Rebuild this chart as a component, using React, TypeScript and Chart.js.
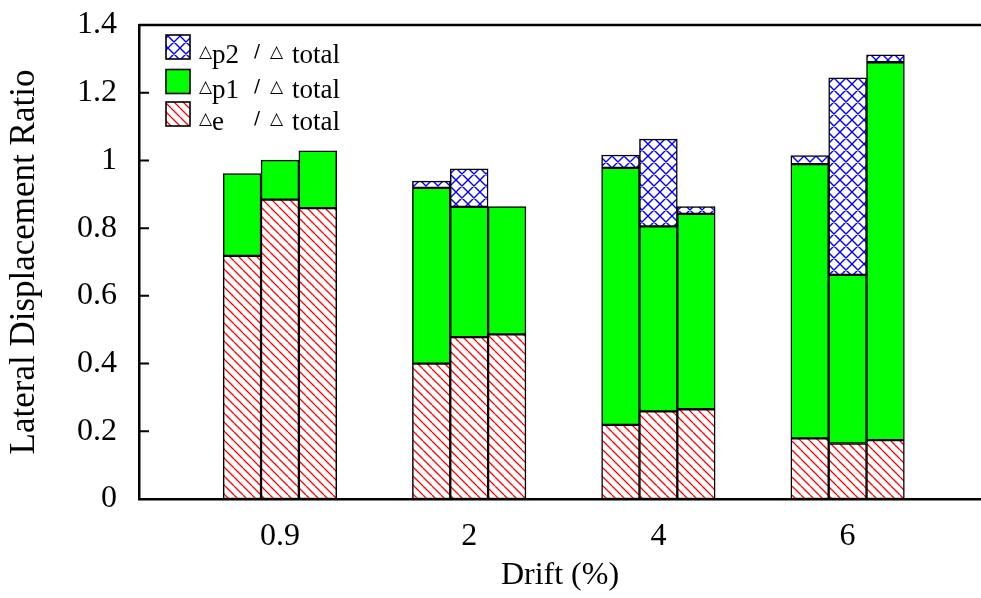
import React, { useEffect, useRef } from "react";
import { Chart, registerables } from "chart.js";

Chart.register(...registerables);

// ---- data ----
const groupLabels = ["0.9", "2", "4", "6"];
const groupPositions = [0, 1, 2, 3];
const barOffsets = [-0.2, 0, 0.2];
const elasticRatio = [0.718, 0.884, 0.859, 0.4, 0.478, 0.486, 0.219, 0.259, 0.265, 0.179, 0.164, 0.174];
const plastic1Ratio = [0.243, 0.117, 0.169, 0.519, 0.385, 0.378, 0.759, 0.546, 0.577, 0.81, 0.498, 1.116];
const plastic2Ratio = [null, null, null, 0.02, 0.112, null, 0.038, 0.258, 0.022, 0.025, 0.582, 0.022];
const yTickValues = [0, 0.2, 0.4, 0.6, 0.8, 1, 1.2, 1.4];
const yTickLabels = ["0", "0.2", "0.4", "0.6", "0.8", "1", "1.2", "1.4"];
const legendRows = [
  { sub: "p2", kind: "p2" },
  { sub: "p1", kind: "p1" },
  { sub: "e", kind: "e" },
];

const SERIF = "'Liberation Serif', 'Times New Roman', serif";
const SANS = "'DejaVu Sans', sans-serif";

function barX(i: number) {
  return groupPositions[Math.floor(i / 3)] + barOffsets[i % 3];
}

function makePattern(ctx: CanvasRenderingContext2D, size: number, color: string, lw: number, cross: boolean) {
  const c = document.createElement("canvas");
  c.width = size;
  c.height = size;
  const g = c.getContext("2d")!;
  g.fillStyle = "#ffffff";
  g.fillRect(0, 0, size, size);
  g.strokeStyle = color;
  g.lineWidth = lw;
  g.beginPath();
  for (const k of [-size, 0, size]) {
    g.moveTo(k, 0);
    g.lineTo(k + size, size);
    if (cross) {
      g.moveTo(k + size, 0);
      g.lineTo(k, size);
    }
  }
  g.stroke();
  return ctx.createPattern(c, "repeat")!;
}

export default function App() {
  const ref = useRef<HTMLCanvasElement>(null);

  useEffect(() => {
    const canvas = ref.current!;
    const ctx = canvas.getContext("2d")!;
    const redHatch = makePattern(ctx, 9, "#ff0000", 1.3, false);
    const blueCross = makePattern(ctx, 12, "#0000ff", 1.4, true);
    const green = "#00ff00";
    const fills: Record<string, any> = { e: redHatch, p1: green, p2: blueCross };

    const frame = {
      id: "frame",
      afterDraw(chart: any) {
        const { ctx: c, chartArea } = chart;
        const ys = chart.scales.y;
        c.save();
        c.strokeStyle = "#000";
        c.lineWidth = 2.5;
        c.beginPath();
        c.moveTo(chartArea.left, chartArea.top);
        c.lineTo(chartArea.right, chartArea.top);
        c.stroke();
        c.lineWidth = 2;
        c.beginPath();
        for (const v of yTickValues) {
          const py = ys.getPixelForValue(v);
          c.moveTo(chartArea.left, py);
          c.lineTo(chartArea.left + 10, py);
        }
        c.stroke();

        // legend
        const boxX = 166;
        const boxTops = [35, 69.5, 102];
        legendRows.forEach((row, i) => {
          const top = boxTops[i];
          c.fillStyle = fills[row.kind];
          c.fillRect(boxX, top, 24, 24);
          c.strokeStyle = "#000";
          c.lineWidth = 1.6;
          c.strokeRect(boxX, top, 24, 24);
          const base = top + 28;
          c.fillStyle = "#000";
          c.textBaseline = "alphabetic";
          c.textAlign = "left";
          c.font = `17px ${SANS}`;
          c.fillText("\u25B3", 199, base - 6);
          c.font = `27px ${SERIF}`;
          c.fillText(row.sub, 212, base);
          c.font = `18px ${SANS}`;
          c.fillText("/", 254, base - 6);
          c.font = `17px ${SANS}`;
          c.fillText("\u25B3", 270, base - 6);
          c.font = `27px ${SERIF}`;
          c.fillText("total", 292, base);
        });
        c.restore();
      },
    };

    const mk = (vals: (number | null)[], kind: string, label: string) => ({
      label,
      data: vals.map((v, i) => ({ x: barX(i), y: v })),
      backgroundColor: fills[kind],
      borderColor: "#000000",
      borderWidth: 1.5,
      borderSkipped: false,
      barPercentage: 1,
      categoryPercentage: 1,
    });

    const chart = new Chart(ctx, {
      type: "bar",
      data: {
        datasets: [
          mk(elasticRatio, "e", "e / total"),
          mk(plastic1Ratio, "p1", "p1 / total"),
          mk(plastic2Ratio, "p2", "p2 / total"),
        ] as any,
      },
      options: {
        animation: false,
        responsive: false,
        devicePixelRatio: 1,
        layout: { padding: { top: 25, right: 0, left: 0, bottom: 0 } },
        plugins: { legend: { display: false }, tooltip: { enabled: false } },
        scales: {
          x: {
            type: "linear",
            stacked: true,
            offset: false,
            min: -0.745,
            max: 3.705,
            afterFit: (s: any) => {
              s.height = 99;
              s.paddingLeft = 0;
              s.paddingRight = 0;
            },
            afterBuildTicks: (s: any) => {
              s.ticks = groupPositions.map((v) => ({ value: v }));
            },
            grid: { display: false, drawTicks: false },
            border: { display: true, color: "#000", width: 2.5 },
            ticks: {
              autoSkip: false,
              maxRotation: 0,
              padding: 18,
              color: "#000",
              font: { family: SERIF, size: 32 },
              callback: (_v: any, i: number) => groupLabels[i],
            },
            title: {
              display: true,
              text: "Drift (%)",
              color: "#000",
              font: { family: SERIF, size: 32 },
              padding: { top: 0, bottom: 3 },
            },
          },
          y: {
            type: "linear",
            stacked: true,
            offset: false,
            min: 0,
            max: 1.4,
            afterFit: (s: any) => {
              s.width = 139;
              s.paddingTop = 0;
              s.paddingBottom = 0;
            },
            afterBuildTicks: (s: any) => {
              s.ticks = yTickValues.map((v) => ({ value: v }));
            },
            grid: { display: false, drawTicks: false },
            border: { display: true, color: "#000", width: 2.5 },
            ticks: {
              padding: 22,
              color: "#000",
              font: { family: SERIF, size: 32 },
              callback: (_v: any, i: number) => yTickLabels[i],
            },
            title: {
              display: true,
              text: "Lateral Displacement Ratio",
              color: "#000",
              font: { family: SERIF, size: 35 },
              padding: { top: 4, bottom: 0 },
            },
          },
        },
      } as any,
      plugins: [frame],
    });
    return () => chart.destroy();
  }, []);

  return (
    <div style={{ position: "fixed", left: 0, top: 0, width: 981, height: 598, background: "#ffffff" }}>
      <canvas ref={ref} width={981} height={598} style={{ display: "block" }} />
    </div>
  );
}
